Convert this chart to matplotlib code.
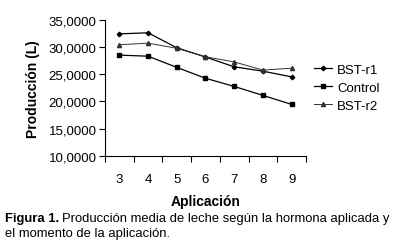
import numpy as np
import matplotlib.pyplot as plt
from matplotlib.ticker import FixedLocator, FuncFormatter

plt.rcParams['font.family'] = ['Liberation Sans', 'DejaVu Sans']

# data
aplicacion = [3, 4, 5, 6, 7, 8, 9]
bst_r1 = [32400, 32600, 29850, 28150, 26350, 25550, 24500]
control = [28500, 28300, 26250, 24250, 22750, 21100, 19450]
bst_r2 = [30400, 30700, 29750, 28200, 27250, 25750, 26100]

fig = plt.figure(figsize=(3.99, 2.51), dpi=100)
ax = fig.add_axes([0.263, 0.375, 0.504, 0.5425])

x = np.arange(len(aplicacion))
ax.plot(x, bst_r1, color='black', lw=0.9, marker='D', ms=2.3, label='BST-r1')
ax.plot(x, control, color='black', lw=0.9, marker='s', ms=3.2, label='Control')
ax.plot(x, bst_r2, color='#333333', lw=0.7, marker='^', ms=3.0, label='BST-r2')

ax.set_xlim(-0.5, len(aplicacion) - 0.5)
ax.set_ylim(10000, 35000)
ax.set_yticks(np.arange(10000, 35001, 5000))
ax.yaxis.set_major_formatter(FuncFormatter(lambda v, p: f'{int(v)//1000},0000'))

# category axis: ticks between categories, labels at centers
ax.xaxis.set_major_locator(FixedLocator(np.arange(-0.5, len(aplicacion), 1)))
ax.xaxis.set_major_formatter(FuncFormatter(lambda v, p: ''))
ax.set_xticks(x, minor=True)
ax.set_xticklabels([str(a) for a in aplicacion], minor=True)
ax.tick_params(axis='x', which='major', direction='out', length=4, width=0.8)
ax.tick_params(axis='x', which='minor', length=0, pad=12, labelsize=9.5)
ax.tick_params(axis='y', direction='out', length=4, width=0.8, labelsize=9.5, pad=2)

for s in ['top', 'right']:
    ax.spines[s].set_visible(False)
for s in ['left', 'bottom']:
    ax.spines[s].set_linewidth(0.8)

ax.set_xlabel('Aplicación', fontsize=10, fontweight='bold', labelpad=7)
ax.set_ylabel('Producción (L)', fontsize=10, fontweight='bold', labelpad=6)

ax.legend(loc='center left', bbox_to_anchor=(1.0, 0.5), frameon=False,
          fontsize=9.5, handlelength=1.4, handletextpad=0.35, labelspacing=0.45,
          borderaxespad=0.2)

# caption: bold "Figura 1." followed by normal text
cap_size = 9.4
cap1 = fig.text(0.013, 0.1155, 'Figura 1.', fontsize=cap_size, fontweight='bold', va='baseline')
fig.canvas.draw()
bb = cap1.get_window_extent()
x2 = (bb.x1 + 3) / fig.bbox.width
fig.text(x2, 0.1155, 'Producción media de leche según la hormona aplicada y',
         fontsize=cap_size, va='baseline')
fig.text(0.013, 0.057, 'el momento de la aplicación.', fontsize=cap_size, va='baseline')

fig.savefig('out.png', dpi=100)
